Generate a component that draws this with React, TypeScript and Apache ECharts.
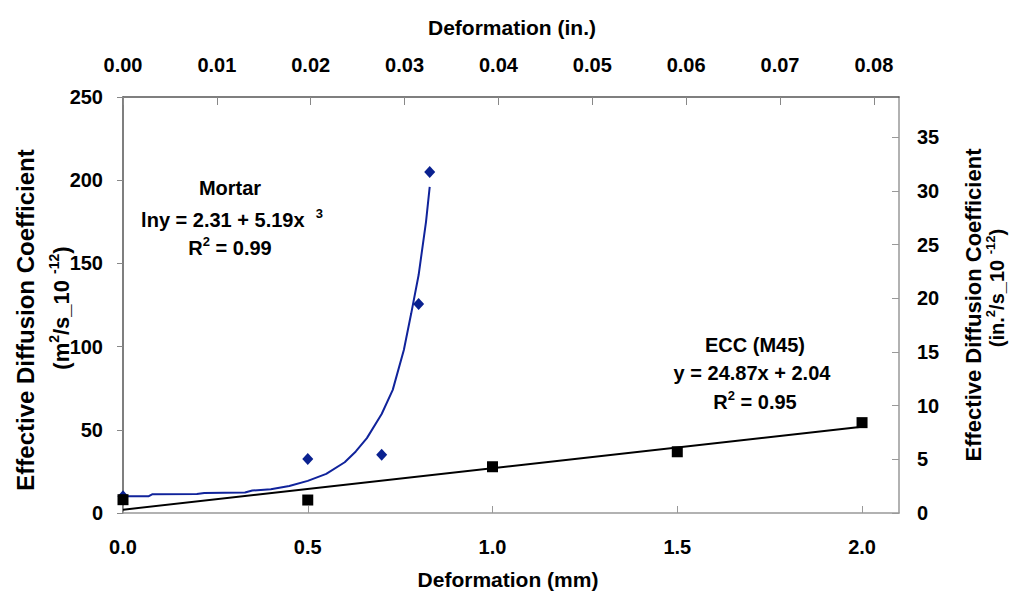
import React, { useEffect, useRef } from "react";
import * as echarts from "echarts";

// ---- data ----
const mortarX = [0, 0.5, 0.7, 0.8, 0.83];
const mortarY = [10, 32.5, 35, 125.6, 205];
const eccX = [0, 0.5, 1.0, 1.5, 2.0];
const eccY = [8, 7.8, 27.8, 36.8, 54.3];
const mortarTrendX = [0, 0.07, 0.08, 0.2, 0.22, 0.33, 0.35, 0.4, 0.45, 0.5, 0.55, 0.6, 0.63, 0.66, 0.7, 0.73, 0.76, 0.78, 0.8, 0.82, 0.83];
const mortarTrendY = [10.1, 10.1, 11.3, 11.4, 12.0, 12.3, 13.5, 14.3, 16.2, 19.3, 23.5, 30.5, 37, 45, 59.5, 74, 98, 120, 143, 175, 196];
const eccTrendX = [0, 2.0];
const eccTrendY = [2.0, 51.8];
const bottomTicks = [0, 0.5, 1.0, 1.5, 2.0];
const topTicks = [0, 0.01, 0.02, 0.03, 0.04, 0.05, 0.06, 0.07, 0.08];
const leftTicks = [0, 50, 100, 150, 200, 250];
const rightTicks = [0, 5, 10, 15, 20, 25, 30, 35];

const FONT = '"Liberation Sans", Arial, Helvetica, sans-serif';

const pairs = (xs: number[], ys: number[]) => xs.map((x, i) => [x, ys[i]]);

export default function App() {
  const ref = useRef<HTMLDivElement>(null);
  useEffect(() => {
    if (!ref.current) return;
    const chart = echarts.init(ref.current, undefined, { renderer: "svg" });
    const labelStyle = { color: "#000", fontSize: 20, fontWeight: "bold" as const, fontFamily: FONT };
    const supRich = (size: number) => ({
      sup: { fontSize: size, fontWeight: "bold", fontFamily: FONT, verticalAlign: "top", lineHeight: size, fill: "#000" },
    });
    const txt = (x: number, y: number, text: string, size = 20, rotation = 0, supSize = 13) => ({
      type: "text",
      x,
      y,
      rotation,
      style: {
        text,
        fill: "#000",
        fontSize: size,
        fontWeight: "bold",
        fontFamily: FONT,
        align: "center",
        verticalAlign: "middle",
        lineHeight: size + 6,
        rich: supRich(supSize),
      },
    });
    chart.setOption({
      animation: false,
      backgroundColor: "#fff",
      grid: { left: 123, right: 111, top: 97, bottom: 80 },
      xAxis: [
        {
          type: "value",
          position: "bottom",
          min: 0,
          max: 2.1,
          splitLine: { show: false },
          axisLine: { show: true, onZero: false, lineStyle: { color: "#999", width: 1.5 } },
          axisTick: { show: true, inside: false, length: -7, customValues: bottomTicks, lineStyle: { color: "#999" } },
          axisLabel: { ...labelStyle, margin: 24, customValues: bottomTicks, formatter: (v: number) => v.toFixed(1) },
        },
        {
          type: "value",
          position: "top",
          min: 0,
          max: 2.1 / 25.4,
          splitLine: { show: false },
          axisLine: { show: true, onZero: false, lineStyle: { color: "#555", width: 1.5 } },
          axisTick: { show: true, inside: false, length: -8, customValues: topTicks, lineStyle: { color: "#888" } },
          axisLabel: { ...labelStyle, margin: 22, customValues: topTicks, formatter: (v: number) => v.toFixed(2) },
        },
      ],
      yAxis: [
        {
          type: "value",
          position: "left",
          min: 0,
          max: 250,
          interval: 50,
          splitLine: { show: false },
          axisLine: { show: true, onZero: false, lineStyle: { color: "#555", width: 1.5 } },
          axisTick: { show: true, inside: false, length: 6, lineStyle: { color: "#888" } },
          axisLabel: { ...labelStyle, margin: 20 },
        },
        {
          type: "value",
          position: "right",
          min: 0,
          max: 38.75,
          splitLine: { show: false },
          axisLine: { show: true, onZero: false, lineStyle: { color: "#999", width: 1.5 } },
          axisTick: { show: true, inside: false, length: -7, customValues: rightTicks, lineStyle: { color: "#999" } },
          axisLabel: { ...labelStyle, margin: 18, customValues: rightTicks },
        },
      ],
      series: [
        {
          name: "Mortar trend",
          type: "line",
          data: pairs(mortarTrendX, mortarTrendY),
          showSymbol: false,
          lineStyle: { color: "#10239b", width: 2 },
          z: 2,
        },
        {
          name: "ECC trend",
          type: "line",
          data: pairs(eccTrendX, eccTrendY),
          showSymbol: false,
          lineStyle: { color: "#000", width: 2 },
          z: 2,
        },
        {
          name: "Mortar",
          type: "scatter",
          data: pairs(mortarX, mortarY),
          symbol: "diamond",
          symbolSize: [11, 12],
          itemStyle: { color: "#0a2190", opacity: 1 },
          z: 3,
        },
        {
          name: "ECC (M45)",
          type: "scatter",
          data: pairs(eccX, eccY),
          symbol: "rect",
          symbolSize: 11,
          itemStyle: { color: "#000", opacity: 1 },
          z: 4,
        },
      ],
      graphic: [
        txt(512, 27, "Deformation (in.)", 21),
        txt(508, 579, "Deformation (mm)", 21),
        txt(25, 320, "Effective Diffusion Coefficient", 24, Math.PI / 2),
        txt(61, 308, "(m{sup|2}/s_10 {sup|-12})", 22, Math.PI / 2, 14),
        txt(973, 305, "Effective Diffusion Coefficient", 22, Math.PI / 2),
        txt(997, 288, "(in.{sup|2}/s_10 {sup|-12})", 20, Math.PI / 2, 13),
        txt(230, 188, "Mortar", 20),
        txt(232, 220, "lny = 2.31 + 5.19x  {sup|3}", 20),
        txt(230, 248, "R{sup|2} = 0.99", 20),
        txt(755, 345, "ECC (M45)", 20),
        txt(752, 373, "y = 24.87x + 2.04", 20),
        txt(755, 402, "R{sup|2} = 0.95", 20),
      ],
    });
    return () => chart.dispose();
  }, []);
  return <div ref={ref} style={{ position: "absolute", left: 0, top: 0, width: 1010, height: 593 }} />;
}
